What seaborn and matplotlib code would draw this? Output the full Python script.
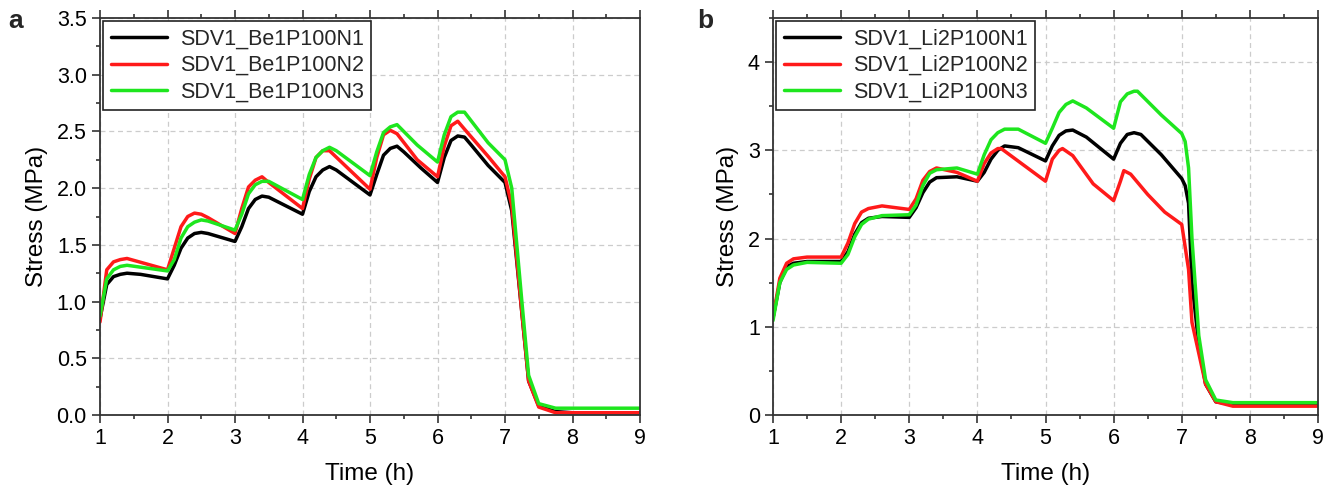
import numpy as np
import pandas as pd
import matplotlib
matplotlib.use("Agg")
import matplotlib.pyplot as plt
import seaborn as sns
from matplotlib.ticker import MultipleLocator, FormatStrFormatter

sns.set_theme(style="ticks")
plt.rcParams['font.family'] = ['Liberation Sans', 'DejaVu Sans']

# ---- panel a : Be1P100 ----
a_n1_t = [1.0, 1.1, 1.2, 1.3, 1.4, 1.6, 2.0, 2.1, 2.2, 2.3, 2.4, 2.5, 2.6, 3.0, 3.1, 3.2, 3.3, 3.4, 3.5, 4.0, 4.1, 4.2, 4.3, 4.4, 4.5,
          5.0, 5.1, 5.2, 5.3, 5.4, 5.5, 5.75, 6.0, 6.1, 6.2, 6.3, 6.4, 6.5, 6.75, 7.0, 7.1, 7.25, 7.35, 7.5, 7.75, 8.0, 9.0]
a_n1_s = [0.85, 1.15, 1.22, 1.24, 1.25, 1.24, 1.20, 1.32, 1.47, 1.56, 1.60, 1.61, 1.60, 1.53, 1.66, 1.82, 1.90, 1.93, 1.92, 1.77, 1.97, 2.10, 2.16, 2.19, 2.16,
          1.94, 2.12, 2.29, 2.35, 2.37, 2.32, 2.18, 2.05, 2.27, 2.42, 2.46, 2.45, 2.38, 2.20, 2.05, 1.80, 0.90, 0.30, 0.08, 0.03, 0.02, 0.02]
a_n2_t = [1.0, 1.1, 1.2, 1.3, 1.4, 2.0, 2.1, 2.2, 2.3, 2.4, 2.5, 2.6, 3.0, 3.1, 3.2, 3.3, 3.4, 3.5, 4.0, 4.1, 4.2, 4.3, 4.4,
          5.0, 5.1, 5.2, 5.3, 5.4, 5.7, 6.0, 6.1, 6.2, 6.3, 6.4, 6.75, 7.0, 7.1, 7.25, 7.35, 7.5, 7.75, 8.0, 9.0]
a_n2_s = [0.82, 1.28, 1.35, 1.37, 1.38, 1.28, 1.47, 1.66, 1.75, 1.78, 1.77, 1.74, 1.60, 1.82, 2.01, 2.07, 2.10, 2.05, 1.82, 2.08, 2.27, 2.33, 2.33,
          1.99, 2.27, 2.47, 2.51, 2.48, 2.25, 2.10, 2.37, 2.55, 2.59, 2.52, 2.28, 2.10, 1.85, 0.90, 0.30, 0.07, 0.02, 0.02, 0.02]
a_n3_t = [1.0, 1.1, 1.2, 1.3, 1.4, 2.0, 2.1, 2.2, 2.3, 2.4, 2.5, 2.6, 3.0, 3.1, 3.2, 3.3, 3.4, 3.5, 4.0, 4.1, 4.2, 4.3, 4.4, 4.5,
          5.0, 5.1, 5.2, 5.3, 5.4, 5.7, 6.0, 6.1, 6.2, 6.3, 6.4, 6.75, 7.0, 7.1, 7.25, 7.35, 7.5, 7.75, 8.0, 9.0]
a_n3_s = [0.87, 1.20, 1.28, 1.31, 1.32, 1.27, 1.37, 1.56, 1.66, 1.70, 1.72, 1.71, 1.63, 1.77, 1.95, 2.03, 2.06, 2.06, 1.90, 2.12, 2.27, 2.33, 2.36, 2.33,
          2.11, 2.32, 2.49, 2.54, 2.56, 2.38, 2.23, 2.47, 2.63, 2.67, 2.67, 2.40, 2.25, 2.00, 1.00, 0.35, 0.10, 0.06, 0.06, 0.06]

# ---- panel b : Li2P100 ----
b_n1_t = [1.0, 1.1, 1.2, 1.3, 1.5, 2.0, 2.1, 2.2, 2.3, 2.4, 2.6, 3.0, 3.1, 3.2, 3.3, 3.4, 3.7, 4.0, 4.1, 4.2, 4.3, 4.4, 4.6,
          5.0, 5.1, 5.2, 5.3, 5.4, 5.6, 6.0, 6.1, 6.2, 6.3, 6.4, 6.7, 7.0, 7.05, 7.1, 7.15, 7.25, 7.35, 7.5, 7.75, 9.0]
b_n1_s = [1.10, 1.50, 1.68, 1.72, 1.74, 1.74, 1.85, 2.05, 2.18, 2.23, 2.25, 2.24, 2.35, 2.52, 2.64, 2.69, 2.70, 2.65, 2.75, 2.90, 3.00, 3.05, 3.03,
          2.88, 3.05, 3.17, 3.22, 3.23, 3.15, 2.90, 3.08, 3.18, 3.20, 3.18, 2.95, 2.68, 2.60, 2.40, 1.50, 0.80, 0.35, 0.15, 0.12, 0.12]
b_n2_t = [1.0, 1.1, 1.2, 1.3, 1.5, 2.0, 2.1, 2.2, 2.3, 2.4, 2.6, 3.0, 3.1, 3.2, 3.3, 3.4, 3.7, 4.0, 4.1, 4.2, 4.3, 4.35,
          5.0, 5.1, 5.2, 5.25, 5.4, 5.7, 6.0, 6.1, 6.15, 6.25, 6.5, 6.75, 7.0, 7.1, 7.15, 7.25, 7.35, 7.5, 7.75, 9.0]
b_n2_s = [1.10, 1.55, 1.72, 1.77, 1.79, 1.79, 1.95, 2.17, 2.30, 2.34, 2.37, 2.33, 2.45, 2.66, 2.76, 2.80, 2.75, 2.65, 2.85, 2.97, 3.02, 3.02,
          2.65, 2.90, 3.00, 3.02, 2.94, 2.62, 2.43, 2.65, 2.77, 2.73, 2.50, 2.30, 2.16, 1.65, 1.05, 0.70, 0.35, 0.15, 0.10, 0.10]
b_n3_t = [1.0, 1.1, 1.2, 1.3, 1.5, 2.0, 2.1, 2.2, 2.3, 2.4, 2.6, 3.0, 3.1, 3.2, 3.3, 3.4, 3.7, 4.0, 4.1, 4.2, 4.3, 4.4, 4.6,
          5.0, 5.1, 5.2, 5.3, 5.4, 5.6, 6.0, 6.1, 6.2, 6.3, 6.35, 6.7, 7.0, 7.05, 7.1, 7.15, 7.25, 7.35, 7.5, 7.75, 9.0]
b_n3_s = [1.07, 1.50, 1.65, 1.70, 1.73, 1.72, 1.82, 2.02, 2.16, 2.22, 2.26, 2.27, 2.38, 2.60, 2.74, 2.78, 2.80, 2.73, 2.95, 3.12, 3.20, 3.24, 3.24,
          3.08, 3.25, 3.43, 3.52, 3.56, 3.48, 3.25, 3.55, 3.64, 3.67, 3.67, 3.40, 3.19, 3.10, 2.80, 2.00, 0.90, 0.40, 0.17, 0.14, 0.14]

labels_a = ["SDV1_Be1P100N1", "SDV1_Be1P100N2", "SDV1_Be1P100N3"]
labels_b = ["SDV1_Li2P100N1", "SDV1_Li2P100N2", "SDV1_Li2P100N3"]
colors = ["#000000", "#ff1a1a", "#1ee61e"]


def make_df(ts, ss, labels):
    parts = []
    for t, s, lab in zip(ts, ss, labels):
        parts.append(pd.DataFrame({"time": t, "stress": s, "run": lab}))
    return pd.concat(parts, ignore_index=True)


df_a = make_df([a_n1_t, a_n2_t, a_n3_t], [a_n1_s, a_n2_s, a_n3_s], labels_a)
df_b = make_df([b_n1_t, b_n2_t, b_n3_t], [b_n1_s, b_n2_s, b_n3_s], labels_b)

fig = plt.figure(figsize=(13.35, 4.92), dpi=100)
ax_a = fig.add_axes([100/1335, 1-415/492, 540/1335, 397/492])
ax_b = fig.add_axes([773/1335, 1-415/492, 545/1335, 397/492])


def draw(ax, df, labels, ymax, ymajor, yminor, fmt):
    sns.lineplot(data=df, x="time", y="stress", hue="run", hue_order=labels,
                 palette=colors, sort=False, estimator=None, lw=2.5, ax=ax)
    ax.set_xlim(1, 9)
    ax.set_ylim(0, ymax)
    ax.xaxis.set_major_locator(MultipleLocator(1))
    ax.xaxis.set_minor_locator(MultipleLocator(0.5))
    ax.yaxis.set_major_locator(MultipleLocator(ymajor))
    ax.yaxis.set_minor_locator(MultipleLocator(yminor))
    ax.yaxis.set_major_formatter(FormatStrFormatter(fmt))
    ax.tick_params(which="both", direction="out", top=True, right=False, colors="#333333",
                   labelcolor="black", labelsize=15.5, width=1.2)
    ax.tick_params(which="major", length=6)
    ax.tick_params(which="minor", length=3)
    ax.grid(True, which="major", ls=(0, (4, 3)), color="#cccccc", lw=0.9)
    for sp in ax.spines.values():
        sp.set_color("#333333")
        sp.set_linewidth(1.3)
    ax.set_xlabel("Time (h)", fontsize=17.5, labelpad=10, color="black")
    ax.set_ylabel("Stress (MPa)", fontsize=17.5, labelpad=6, color="black")
    leg = ax.legend(loc="upper left", fontsize=15.5, frameon=True, fancybox=False,
                    edgecolor="#222222", framealpha=1, borderaxespad=0.15,
                    handlelength=2.6, borderpad=0.35, labelspacing=0.25, handletextpad=0.6)
    leg.get_frame().set_linewidth(1.2)
    for line in leg.get_lines():
        line.set_linewidth(2.5)


draw(ax_a, df_a, labels_a, 3.5, 0.5, 0.25, "%.1f")
draw(ax_b, df_b, labels_b, 4.5, 1, 0.5, "%d")

fig.text(8/1335, 1-28/492, "a", fontsize=19, fontweight="bold")
fig.text(697/1335, 1-28/492, "b", fontsize=19, fontweight="bold")

fig.savefig("out.png", dpi=100)
